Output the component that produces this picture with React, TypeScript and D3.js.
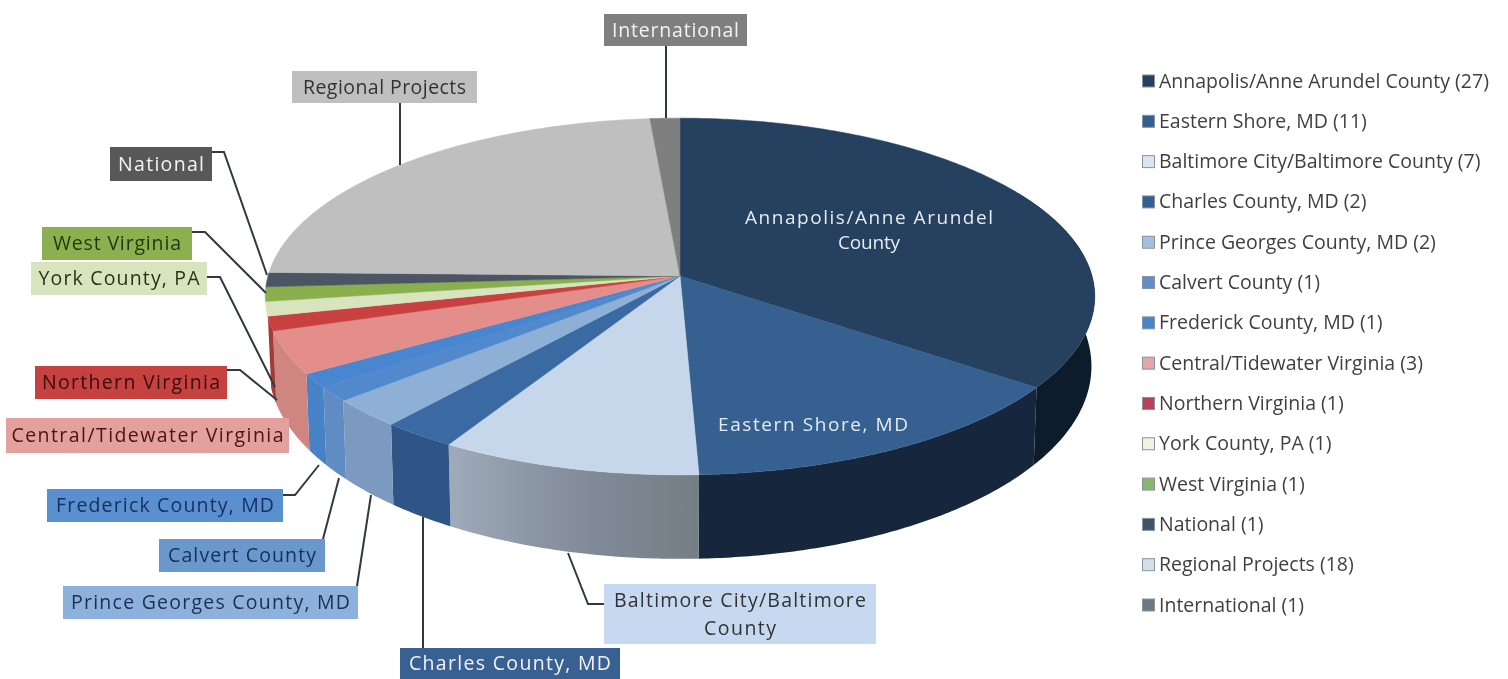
import React from 'react';
import * as d3 from 'd3';

const WIDTH = 1508;
const HEIGHT = 679;
const FONT = '"Open Sans", "Noto Sans", sans-serif';

// Slices, clockwise from twelve o'clock
const CATEGORIES = [
  'Annapolis/Anne Arundel County',
  'Eastern Shore, MD',
  'Baltimore City/Baltimore County',
  'Charles County, MD',
  'Prince Georges County, MD',
  'Calvert County',
  'Frederick County, MD',
  'Central/Tidewater Virginia',
  'Northern Virginia',
  'York County, PA',
  'West Virginia',
  'National',
  'Regional Projects',
  'International',
];
const VALUES = [27, 11, 7, 2, 2, 1, 1, 3, 1, 1, 1, 1, 18, 1];
const TOP_COLORS = [
  '#253f60', '#35618f', '#c6d7eb', '#3a6ba3', '#8fb0d6', '#5189cc', '#4a86d0',
  '#e48e8b', '#c9403f', '#d7e4bd', '#8ab04e', '#4b5464', '#bfbfbf', '#7f7f7f',
];
const WALL_COLORS = [
  '#111a2b', '#16263c', 'url(#baltimoreWall)', '#2f5585', '#7b9ac0', '#5f8cc2', '#4782c6',
  '#cf8580', '#a33a3a', '#b9c6a0', '#74943f', '#3d4552', '#a3a3a3', '#6b6b6b',
];
const BOX_COLORS = [
  '#253f60', '#35618f', '#c6d9f0', '#376092', '#8db0dc', '#6a97cc', '#5a8fd0',
  '#e3a09d', '#c6423f', '#d7e4bd', '#8cb04f', '#595959', '#bfbfbf', '#7f7f7f',
];
const LEGEND_SWATCHES = [
  '#253f60', '#30608f', '#dbe5f1', '#30608f', '#a5bfdf', '#5f8fc6', '#4a86c8',
  '#e6a5a8', '#b8405a', '#eef3e4', '#8ab66e', '#3c5566', '#d5dfec', '#6c7a80',
];

// Label boxes and their leader lines, [x, y] elbows run from the box to the slice
const LABELS: { i: number; x: number; y: number; w: number; h: number; text: string[]; color: string; leader: number[][]; tl: number[] }[] = [
  { i: 13, x: 604, y: 14, w: 143, h: 32, text: ['International'], color: '#f2f2f2', leader: [[666, 46], [666, 118]], tl: [127] },
  { i: 12, x: 292, y: 71, w: 185, h: 32, text: ['Regional Projects'], color: '#333333', leader: [[400, 103], [400, 165]], tl: [163] },
  { i: 11, x: 110, y: 147, w: 102, h: 34, text: ['National'], color: '#f2f2f2', leader: [[212, 152], [224, 152], [267, 275]], tl: [86] },
  { i: 10, x: 42, y: 227, w: 150, h: 33, text: ['West Virginia'], color: '#1e3a0c', leader: [[192, 232], [205, 232], [266, 293]], tl: [128] },
  { i: 9, x: 31, y: 262, w: 176, h: 33, text: ['York County, PA'], color: '#26331a', leader: [[207, 277], [220, 277], [275, 387]], tl: [161] },
  { i: 8, x: 35, y: 366, w: 192, h: 33, text: ['Northern Virginia'], color: '#3a0a0a', leader: [[227, 370], [240, 370], [277, 400]], tl: [178] },
  { i: 7, x: 6, y: 418, w: 283, h: 35, text: ['Central/Tidewater Virginia'], color: '#4a1212', leader: [], tl: [272] },
  { i: 6, x: 47, y: 489, w: 236, h: 33, text: ['Frederick County, MD'], color: '#14305c', leader: [[283, 495], [295, 495], [319, 465]], tl: [218] },
  { i: 5, x: 159, y: 539, w: 166, h: 33, text: ['Calvert County'], color: '#12305c', leader: [[323, 539], [339, 478]], tl: [148] },
  { i: 4, x: 63, y: 586, w: 295, h: 33, text: ['Prince Georges County, MD'], color: '#1c2f52', leader: [[357, 586], [371, 495]], tl: [279] },
  { i: 3, x: 400, y: 648, w: 220, h: 31, text: ['Charles County, MD'], color: '#f2f2f2', leader: [[423, 648], [423, 517]], tl: [202] },
  { i: 2, x: 604, y: 584, w: 272, h: 60, text: ['Baltimore City/Baltimore', 'County'], color: '#333333', leader: [[604, 604], [588, 604], [568, 553]], tl: [252, 72] },
];

// The photo's pie is seen in perspective: the front half is drawn bigger than the back
const CX = 680;
const CY = 276;
const RX = 412;
const RY = 176;
const PERSPECTIVE = 0.115;

const project = (theta: number): [number, number] => {
  const u = Math.sin(theta);
  const v = -Math.cos(theta);
  const s = 1 / (1 - PERSPECTIVE * v);
  return [CX + RX * u * s, CY + RY * v * s];
};

const projectBottom = (theta: number): [number, number] => {
  const v = -Math.cos(theta);
  const [x, y] = project(theta);
  return [CX + (x - CX) * 0.992, y + 68 + 16 * v];
};

const sampleAngles = (a0: number, a1: number) => {
  const step = (a1 - a0) / Math.max(2, Math.ceil((a1 - a0) / 0.01));
  return d3.range(0, Math.round((a1 - a0) / step) + 1).map((k) => a0 + k * step);
};

const WALL_FROM = (60 * Math.PI) / 180;
const WALL_TO = (257 * Math.PI) / 180;

const App: React.FC = () => {
  const slices = d3.pie<number>().sort(null).value((d) => d)(VALUES);
  const line = d3.line<[number, number]>().x((d) => d[0]).y((d) => d[1]);

  const topPath = (a0: number, a1: number) =>
    line([[CX, CY] as [number, number], ...sampleAngles(a0, a1).map(project)]) + 'Z';

  const wallPath = (a0: number, a1: number) => {
    const angles = sampleAngles(a0, a1);
    return line([...angles.map(project), ...angles.slice().reverse().map(projectBottom)]) + 'Z';
  };

  const legendY = d3.scalePoint<string>().domain(CATEGORIES).range([81, 605]);

  return (
    <svg
      width={WIDTH}
      height={HEIGHT}
      viewBox={`0 0 ${WIDTH} ${HEIGHT}`}
      style={{ position: 'absolute', left: 0, top: 0, background: '#fff', fontFamily: FONT }}
    >
      <defs>
        <linearGradient id="baltimoreWall" x1="0" x2="1" y1="0" y2="0">
          <stop offset="0%" stopColor="#9fabba" />
          <stop offset="50%" stopColor="#838d9c" />
          <stop offset="100%" stopColor="#747e84" />
        </linearGradient>
        {/* the source is a soft, scanned looking image */}
        <filter id="soft" x="0" y="0" width="100%" height="100%">
          <feGaussianBlur stdDeviation={0.55} />
        </filter>
      </defs>

      <g filter="url(#soft)">
        {/* side walls */}
        {slices.map((d, i) => {
          const a0 = Math.max(d.startAngle, WALL_FROM);
          const a1 = Math.min(d.endAngle, WALL_TO);
          if (a1 <= a0) return null;
          return <path key={i} d={wallPath(a0, a1)} fill={WALL_COLORS[i]} />;
        })}

        {/* top face */}
        {slices.map((d, i) => (
          <path key={i} d={topPath(d.startAngle, d.endAngle)} fill={TOP_COLORS[i]} stroke={TOP_COLORS[i]} strokeWidth={0.5} />
        ))}

        {/* labels on the pie */}
        <g fill="#e6ebf2" fontSize={19} textAnchor="middle">
          <text x={869} y={224} textLength={248}>Annapolis/Anne Arundel</text>
          <text x={869} y={249} textLength={62}>County</text>
          <text x={813} y={431} textLength={190}>Eastern Shore, MD</text>
        </g>

        {/* leader lines */}
        {LABELS.filter((l) => l.leader.length > 0).map((l) => (
          <path
            key={l.i}
            d={d3.line()(l.leader as [number, number][]) || ''}
            fill="none"
            stroke="#33383f"
            strokeWidth={2}
          />
        ))}

        {/* label boxes */}
        {LABELS.map((l) => (
          <g key={l.i}>
            <rect x={l.x} y={l.y} width={l.w} height={l.h} fill={BOX_COLORS[l.i]} />
            {l.text.map((t, k) => (
              <text
                key={k}
                x={l.x + l.w / 2}
                y={l.y + l.h / 2 + 6.5 + (k - (l.text.length - 1) / 2) * 28}
                fontSize={19.5}
                textAnchor="middle"
                textLength={l.tl[k]}
                fill={l.color}
              >
                {t}
              </text>
            ))}
          </g>
        ))}

        {/* legend */}
        {CATEGORIES.map((c, i) => (
          <g key={c}>
            <rect
              x={1142.5}
              y={(legendY(c) as number) - 6}
              width={12}
              height={12}
              fill={LEGEND_SWATCHES[i]}
              stroke="#8a94a0"
              strokeWidth={1}
            />
            <text x={1159} y={(legendY(c) as number) + 6.5} fontSize={19.5} fill="#3f3f3f">
              {`${c} (${VALUES[i]})`}
            </text>
          </g>
        ))}
      </g>
    </svg>
  );
};

export default App;
